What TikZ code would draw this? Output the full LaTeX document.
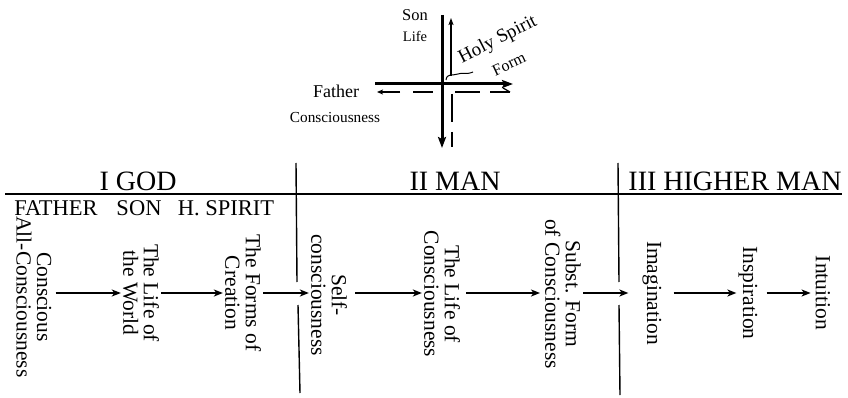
\documentclass[tikz,border=0pt]{standalone}
\usepackage{fontspec}
\setmainfont{Liberation Serif}
\usetikzlibrary{arrows.meta}
\tikzset{
  flow/.style={-{Stealth[length=9pt,width=7pt,inset=2.5pt]}, line width=1.5pt},
  vtext/.style={rotate=-90, align=center, font=\fontsize{21.5}{20.5}\selectfont, inner sep=2pt},
  head/.style={font=\fontsize{28}{30}\selectfont, anchor=base, inner sep=0pt},
  subhead/.style={font=\fontsize{22.5}{24}\selectfont, anchor=base, inner sep=0pt},
  rule/.style={line width=1.4pt},
  thickarrow/.style={line width=3pt, -{Stealth[length=11pt,width=8pt,inset=2pt]}},
  thinarrow/.style={line width=1.2pt, -{Stealth[length=7pt,width=5pt,inset=1.5pt]}},
  dashseg/.style={line width=1.5pt},
  lbl/.style={inner sep=0pt, anchor=base},
}
\begin{document}
\begin{tikzpicture}[x=1pt,y=-1pt]
\useasboundingbox (0,0) rectangle (848,398);

% ---------- cross diagram ----------
\coordinate (vtop) at (442,15);
\coordinate (vbot) at (442,148);
\coordinate (hleft) at (375,84);
\coordinate (hright) at (513,84);
\draw[thickarrow] (vtop) -- (vbot);
\draw[thickarrow] (hleft) -- (hright);
\coordinate (upstart) at (451,76);
\coordinate (upend) at (451,18);
\draw[thinarrow] (upstart) -- (upend);
% dashed horizontal
\draw[dashseg, -{Stealth[length=6pt,width=5pt,inset=1.5pt]}] (400,92) -- (377,92);
\draw[dashseg] (413,92) -- (433,92);
\draw[dashseg] (455,92) -- (480,92);
\draw[dashseg] (490,92) -- (510,92);
\draw[line width=1.2pt] (503,88) -- (510,92);
% dashed vertical
\draw[dashseg] (452,94) -- (452,122);
\draw[dashseg] (452,132) -- (452,147);
% squiggle
\draw[line width=1pt] (446,80) .. controls (447,73) and (452,76) .. (458,74)
   .. controls (463,72) and (466,75) .. (473,72);

\node[lbl, font=\fontsize{16.5}{18}\selectfont] (son) at (415,21) {Son};
\node[lbl, font=\fontsize{14.5}{16}\selectfont] (life) at (415,42) {Life};
\node[lbl, font=\fontsize{18}{20}\selectfont] (father) at (336,98) {Father};
\node[lbl, font=\fontsize{15.3}{17}\selectfont] (fcons) at (335,123) {Consciousness};
\node[inner sep=0pt, rotate=27, font=\fontsize{19}{21}\selectfont] (hs) at (498,40) {Holy Spirit};
\node[inner sep=0pt, rotate=25, font=\fontsize{16}{18}\selectfont] (form) at (509,64) {Form};

% ---------- frame ----------
\coordinate (hl) at (5,194);
\coordinate (hr) at (842,194);
\draw[rule] (hl) -- (hr);
\coordinate (a1) at (296,163); \coordinate (a2) at (297,282);
\coordinate (a3) at (298,305); \coordinate (a4) at (300,393);
\draw[rule] (a1) -- (a2); \draw[rule] (a3) -- (a4);
\coordinate (b1) at (618,163); \coordinate (b2) at (619,282);
\coordinate (b3) at (619,305); \coordinate (b4) at (620,395);
\draw[rule] (b1) -- (b2); \draw[rule] (b3) -- (b4);

% ---------- headings ----------
\node[head] (god) at (138,191) {I GOD};
\node[head] (man) at (455,191) {II MAN};
\node[head] (hman) at (735,191) {III HIGHER MAN};
\node[subhead] (fa) at (56,215) {FATHER};
\node[subhead] (so) at (139,215) {SON};
\node[subhead] (sp) at (226,215) {H. SPIRIT};

% ---------- stages ----------
\node[vtext] (n1) at (34,297) {Conscious\\All-Consciousness};
\node[vtext] (n2) at (141,293) {The Life of\\the World};
\node[vtext] (n3) at (243,293) {The Forms of\\Creation};
\node[vtext] (n4) at (329,295) {Self-\\consciousness};
\node[vtext] (n5) at (442,294) {The Life of\\Consciousness};
\node[vtext] (n6) at (563,294) {Subst. Form\\of Consciousness};
\node[vtext] (n7) at (652,293) {Imagination};
\node[vtext] (n8) at (748,293) {Inspiration};
\node[vtext] (n9) at (823,293) {Intuition};

\draw[flow, shorten <=2pt] (n1.north |- n2.center) -- (n2.south);
\draw[flow] (n2.north) -- (n3.south);
\draw[flow] (n3.north) -- (n4.south |- n3.center);
\draw[flow, shorten <=6pt] (n4.north |- n3.center) -- (n5.south |- n3.center);
\draw[flow, shorten <=4pt, shorten >=3pt] (n5.north |- n3.center) -- (n6.south |- n3.center);
\draw[flow, shorten >=12pt] (n6.north |- n3.center) -- (n7.south);
\draw[flow, shorten <=10pt] (n7.north) -- (n8.south);
\draw[flow, shorten <=7pt, shorten >=3pt] (n8.north) -- (n9.south);
\end{tikzpicture}
\end{document}
